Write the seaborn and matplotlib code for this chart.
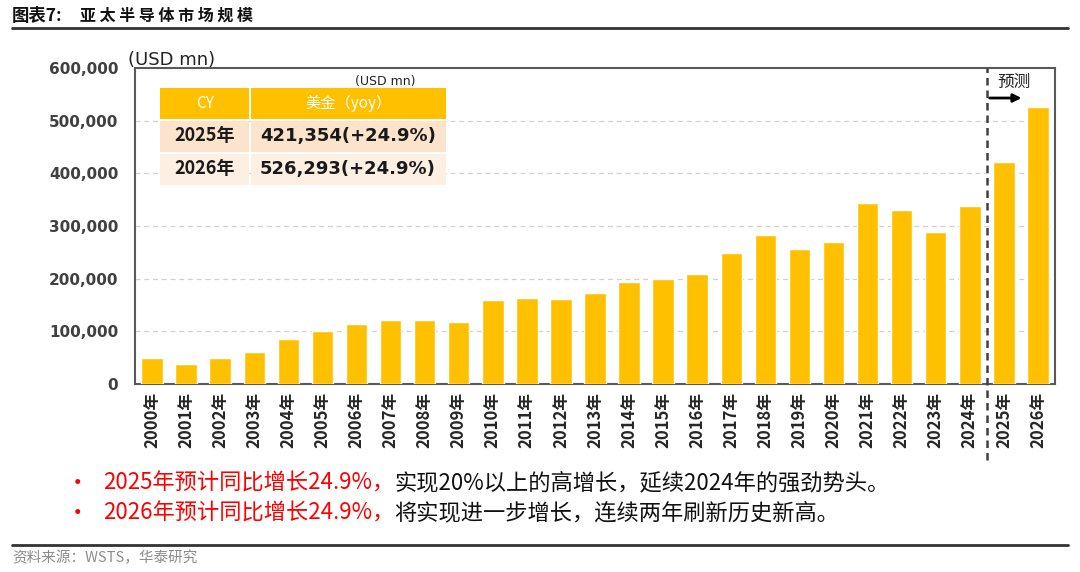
import matplotlib
matplotlib.use("Agg")
import matplotlib.pyplot as plt
import seaborn as sns
import pandas as pd
from matplotlib.patches import Rectangle

years = [f"{y}年" for y in range(2000, 2027)]
values = [49000, 38000, 49000, 60000, 85000, 101000, 113000, 121000, 121000, 117000,
          160000, 164000, 162000, 173000, 194000, 200000, 208000, 249000, 282000, 257000,
          270000, 343000, 331000, 289000, 337353, 421354, 526293]
yticks = [0, 100000, 200000, 300000, 400000, 500000, 600000]
table_header = ["CY", "美金（yoy）"]
table_rows = [["2025年", "421,354(+24.9%)"], ["2026年", "526,293(+24.9%)"]]
bullets = [("2025年预计同比增长24.9%，", "实现20%以上的高增长，延续2024年的强劲势头。"),
           ("2026年预计同比增长24.9%，", "将实现进一步增长，连续两年刷新历史新高。")]

sns.set_style("white")
plt.rcParams['font.family'] = ['Noto Sans CJK SC', 'DejaVu Sans']

W, H = 1080, 572
fig = plt.figure(figsize=(W / 100, H / 100), dpi=100)
def fx(x): return x / W
def fy(y): return 1 - y / H

ax = fig.add_axes([fx(135), fy(384), fx(1055) - fx(135), fy(68) - fy(384)])
df = pd.DataFrame({"year": years, "value": values})
sns.barplot(data=df, x="year", y="value", color="#FFC000", saturation=1, width=0.63, ax=ax, zorder=3)

ax.set_ylim(0, 600000)
ax.set_xlim(-0.5, len(years) - 0.5)
ax.set_yticks(yticks)
ax.set_yticklabels([f"{v:,}" for v in yticks], fontsize=11, fontweight="bold", color="#404040",
                   family="DejaVu Sans")
ax.set_xticks(range(len(years)))
ax.set_xticklabels(years, rotation=90, fontsize=12, fontweight="bold", color="#262626")
ax.tick_params(axis="both", length=0, pad=6)
ax.tick_params(axis="y", pad=12)
ax.set_xlabel("")
ax.set_ylabel("")
for y in yticks[1:-1]:
    ax.axhline(y, color="#d0d0d0", lw=0.9, ls=(0, (4, 3)), zorder=1)
for s in ax.spines.values():
    s.set_visible(True)
    s.set_color("#595959")
    s.set_linewidth(1.5)

# forecast divider
ax.plot([24.5, 24.5], [-0.24, 1.0], transform=ax.get_xaxis_transform(), clip_on=False,
        color="#404040", lw=1.8, ls=(0, (3, 2)), zorder=4)
ax.annotate("", xy=(25.6, 0.905), xytext=(24.5, 0.905), xycoords=ax.get_xaxis_transform(),
            arrowprops=dict(arrowstyle="-|>", color="black", lw=2, mutation_scale=12))
ax.text(25.3, 0.955, "预测", transform=ax.get_xaxis_transform(), ha="center", va="center",
        fontsize=12, color="#222222")

fig.text(fx(128), fy(60), "(USD mn)", fontsize=13, ha="left", va="center", color="#222222",
         family="DejaVu Sans")

# table
def rect(x0, y0, x1, y1, c):
    fig.patches.append(Rectangle((fx(x0), fy(y1)), fx(x1) - fx(x0), fy(y0) - fy(y1),
                                 transform=fig.transFigure, facecolor=c, edgecolor="none", zorder=5))
rect(160, 88, 249, 119, "#FFC000")
rect(251, 88, 446, 119, "#FFC000")
rect(160, 121, 249, 152, "#FBE3CC")
rect(251, 121, 446, 152, "#FBE3CC")
rect(160, 154, 249, 185, "#FDF0E3")
rect(251, 154, 446, 185, "#FDF0E3")
fig.text(fx(385), fy(82), "(USD mn)", fontsize=9, ha="center", va="center", color="#222222",
         family="DejaVu Sans", zorder=6)
fig.text(fx(205), fy(103), table_header[0], fontsize=11, ha="center", va="center", color="white", zorder=6)
fig.text(fx(348), fy(103), table_header[1], fontsize=11, ha="center", va="center", color="white", zorder=6)
for i, (a, b) in enumerate(table_rows):
    yc = 136 + i * 33
    fig.text(fx(205), fy(yc), a, fontsize=13, fontweight="bold", ha="center", va="center",
             color="#1a1a1a", zorder=6)
    fig.text(fx(348), fy(yc), b, fontsize=13, fontweight="bold", ha="center", va="center",
             color="#1a1a1a", zorder=6, family=["DejaVu Sans", "Noto Sans CJK SC"])

# title
fig.text(fx(12), fy(16), "图表7:", fontsize=12.5, fontweight="bold", ha="left",
         va="center", color="#111111")
fig.text(fx(80), fy(16), "亚 太 半 导 体 市 场 规 模", fontsize=11.5, fontweight="bold", ha="left",
         va="center", color="#111111")
fig.add_artist(plt.Line2D([fx(12), fx(1068)], [fy(28), fy(28)], color="#333333", lw=2))

# bullets
fig.canvas.draw()
for i, (red, black) in enumerate(bullets):
    yc = 483 + i * 30
    fig.text(fx(66), fy(yc), "•", fontsize=17, color="#FF0000", ha="left", va="center")
    t = fig.text(fx(103), fy(yc), red, fontsize=16, color="#FF0000", ha="left", va="center")
    bb = t.get_window_extent(renderer=fig.canvas.get_renderer())
    fig.text(bb.x1 / W, fy(yc), black, fontsize=16, color="#111111", ha="left", va="center")

fig.add_artist(plt.Line2D([fx(12), fx(1068)], [fy(545), fy(545)], color="#333333", lw=2))
fig.text(fx(12), fy(558), "资料来源：WSTS，华泰研究", fontsize=10.5, color="#8c8c8c", ha="left", va="center")

fig.savefig("out.png", dpi=100)
